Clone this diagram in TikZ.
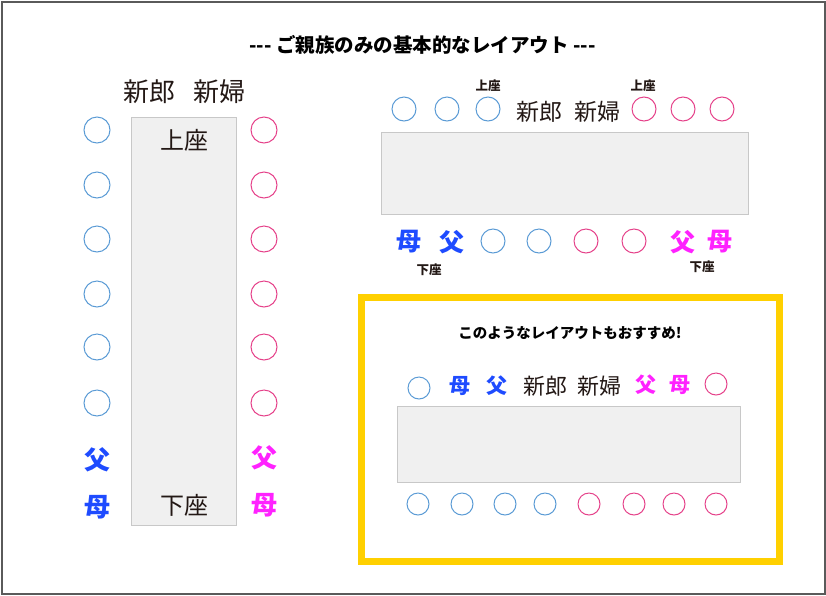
\documentclass[tikz,border=0pt]{standalone}
\usepackage{fontspec}
\setmainfont{Noto Sans CJK JP}[Ligatures=TeXOff]
\definecolor{bluec}{HTML}{5B9BD5}
\definecolor{pinkc}{HTML}{E5428A}
\definecolor{bluet}{HTML}{1E4BFF}
\definecolor{pinkt}{HTML}{FF22FF}
\definecolor{textc}{HTML}{231815}
\definecolor{tfill}{HTML}{F0F0F0}
\definecolor{tdraw}{HTML}{C8C8C8}
\definecolor{ybox}{HTML}{FFD000}
\definecolor{frame}{HTML}{5A5A5A}
\tikzset{
  seatB/.style={circle, draw=bluec, line width=1pt, minimum size=#1, inner sep=0pt},
  seatB/.default=25pt,
  seatP/.style={circle, draw=pinkc, line width=1pt, minimum size=#1, inner sep=0pt},
  seatP/.default=25pt,
  tablebox/.style={draw=tdraw, fill=tfill, line width=1pt, inner sep=0pt},
  famB/.style={text=bluet, font=\fontsize{#1}{#1}\selectfont\bfseries, inner sep=0pt},
  famP/.style={text=pinkt, font=\fontsize{#1}{#1}\selectfont\bfseries, inner sep=0pt},
  nm/.style={text=textc, font=\fontsize{#1}{#1}\selectfont, inner sep=0pt},
  smalllab/.style={text=textc, font=\fontsize{12.5}{12.5}\selectfont\bfseries, inner sep=0pt},
}
\begin{document}
\begin{tikzpicture}[x=1pt,y=-1pt]
\useasboundingbox (0,0) rectangle (826,595);
\node[draw=frame, line width=2pt, minimum width=823pt, minimum height=592pt, inner sep=0pt] (frm) at (413,297.5) {};
\node[text=black, font=\fontsize{19.5}{19.5}\selectfont\bfseries, inner sep=0pt] (title) at (422.5,45) {--- ご親族のみの基本的なレイアウト ---};

% ---------- left long table ----------
\node[nm=26] (l-groom) at (149.5,92) {新郎};
\node[nm=26] (l-bride) at (219,92) {新婦};
\node[tablebox, minimum width=105pt, minimum height=408pt] (t1) at (183.5,321) {};
\node[nm=24] (t1-up) at (184,140) {上座};
\node[nm=24] (t1-down) at (184,505) {下座};
\foreach \y [count=\i] in {130,185,239,294,347,403} {
  \node[seatB=26pt] (lb\i) at (97,\y) {};
  \node[seatP=26pt] (lp\i) at (264,\y) {};
}
\node[famB=26] (l-fb) at (97,460) {父};
\node[famB=26] (l-mb) at (97,507) {母};
\node[famP=26] (l-fp) at (264,458) {父};
\node[famP=26] (l-mp) at (264,505) {母};

% ---------- top right ----------
\node[tablebox, minimum width=367pt, minimum height=82pt] (t2) at (564.5,173) {};
\node[seatB=24pt] (rb1) at (404,109) {};
\node[seatB=24pt] (rb2) at (447,109) {};
\node[seatB=24pt] (rb3) at (488,109) {};
\node[seatP=24pt] (rp1) at (644,109) {};
\node[seatP=24pt] (rp2) at (683,109) {};
\node[seatP=24pt] (rp3) at (722,109) {};
\node[nm=23] (r-groom) at (539,112) {新郎};
\node[nm=23] (r-bride) at (597,112) {新婦};
\node[smalllab] (r-up1) at (488,86) {上座};
\node[smalllab] (r-up2) at (643,86) {上座};
\node[famB=25] (r-mb) at (409,242) {母};
\node[famB=25] (r-fb) at (452,242) {父};
\node[seatB=24pt] (rb4) at (493,241) {};
\node[seatB=24pt] (rb5) at (539,241) {};
\node[seatP=24pt] (rp4) at (586,241) {};
\node[seatP=24pt] (rp5) at (634,241) {};
\node[famP=25] (r-fp) at (683,242) {父};
\node[famP=25] (r-mp) at (720,242) {母};
\node[smalllab] (r-down1) at (429,270) {下座};
\node[smalllab] (r-down2) at (702,267) {下座};

% ---------- recommended box ----------
\node[draw=ybox, line width=7pt, minimum width=418pt, minimum height=264pt, inner sep=0pt] (yb) at (570.5,429.5) {};
\node[text=black, font=\fontsize{14.5}{14.5}\selectfont\bfseries, inner sep=0pt] (rec) at (570,333) {このようなレイアウトもおすすめ!};
\node[tablebox, minimum width=343pt, minimum height=76pt] (t3) at (568.5,444) {};
\node[seatB=22pt] (yb1) at (419,388) {};
\node[famB=21] (y-mb) at (460,386) {母};
\node[famB=21] (y-fb) at (497,386) {父};
\node[nm=22] (y-groom) at (545,386) {新郎};
\node[nm=22] (y-bride) at (599,386) {新婦};
\node[famP=21] (y-fp) at (646,385) {父};
\node[famP=21] (y-mp) at (680,385) {母};
\node[seatP=22pt] (yp1) at (716,384) {};
\foreach \x [count=\i] in {418,462,505,545} {
  \node[seatB=22pt] (ybb\i) at (\x,504) {};
}
\foreach \x [count=\i] in {589,634,674,716} {
  \node[seatP=22pt] (ypb\i) at (\x,504) {};
}
\end{tikzpicture}
\end{document}
